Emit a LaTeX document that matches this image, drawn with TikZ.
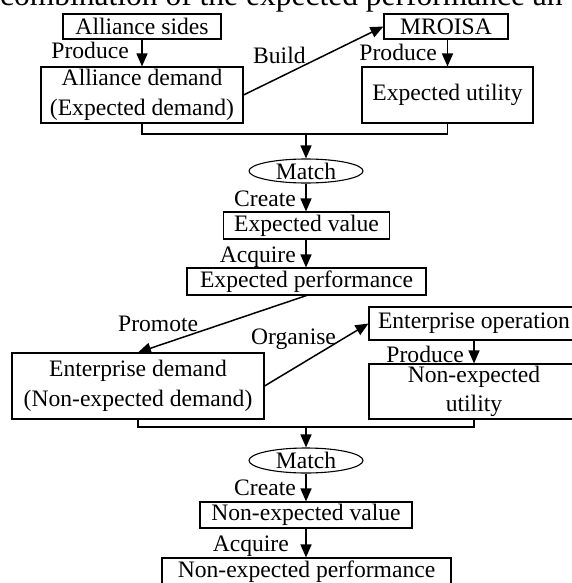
\documentclass[tikz,border=0pt]{standalone}
\usepackage{fontspec}
\setmainfont{Liberation Serif}
\usetikzlibrary{arrows.meta,shapes.geometric}
\begin{document}
\begin{tikzpicture}[x=1pt,y=-1pt,
  font=\fontsize{23.6}{29.5}\selectfont,
  box/.style={draw,line width=1.1pt,inner sep=0pt,align=center},
  oval/.style={draw,ellipse,line width=1.1pt,inner sep=0pt,minimum width=114pt,minimum height=24pt},
  lbl/.style={inner sep=0pt},
  conn/.style={line width=1.8pt},
  arr/.style={line width=1.5pt,-{Triangle[length=13pt,width=11pt]}}]
\useasboundingbox (0,0) rectangle (572,583);
\clip (0,0) rectangle (572,583);
% cropped caption
\node[lbl,anchor=base west,font=\fontsize{31.5}{36}\selectfont] (cap) at (0,6) {combination of the expected performance an};
% nodes
\node[box,minimum width=158pt,minimum height=25pt] (as) at (142,26.5) {Alliance sides};
\node[box,minimum width=202pt,minimum height=56pt] (ad) at (142,95) {Alliance demand\\(Expected demand)};
\node[box,minimum width=124pt,minimum height=25pt] (mr) at (446,26.5) {MROISA};
\node[box,minimum width=171pt,minimum height=56pt] (eu) at (447.5,95) {Expected utility};
\node[oval] (m1) at (306,171) {Match};
\node[box,minimum width=166pt,minimum height=27pt] (ev) at (306.5,225.5) {Expected value};
\node[box,minimum width=239pt,minimum height=27pt] (ep) at (306.5,281.5) {Expected performance};
\node[box,minimum width=252pt,minimum height=66pt] (ed) at (138,386) {Enterprise demand\\(Non-expected demand)};
\node[box,minimum width=210pt,minimum height=33pt] (eo) at (474,323.5) {Enterprise operation};
\node[box,minimum width=210pt,minimum height=55pt] (nu) at (474,391.5) {Non-expected\\utility};
\node[oval,minimum height=25pt] (m2) at (306,460.5) {Match};
\node[box,minimum width=212pt,minimum height=26pt] (nv) at (306,515) {Non-expected value};
\node[box,minimum width=289pt,minimum height=27pt] (np) at (306.5,571.5) {Non-expected performance};
% junctions
\coordinate (j1) at (306,134);
\coordinate (j2) at (306,427);
% connectors
\draw[arr] (as.south) -- (ad.north);
\draw[arr] (mr.south -| eu.north) -- (eu.north);
\draw[arr] (ad.east) -- (mr.west);
\draw[conn] (ad.south) |- (j1) -| (eu.south);
\draw[arr] (j1) -- (m1.north);
\draw[arr] (m1.south) -- (ev.north -| m1.south);
\draw[arr] (ev.south -| m1.south) -- (ep.north -| m1.south);
\draw[arr] (ep.south) -- (ed.north);
\draw[arr] (ed.east) -- (eo.west);
\draw[arr] (eo.south) -- (nu.north);
\draw[conn] (ed.south) |- (j2) -| (nu.south);
\draw[arr] (j2) -- (m2.north);
\draw[arr] (m2.south) -- (nv.north -| m2.south);
\draw[arr] (nv.south -| m2.south) -- (np.north -| m2.south);
% labels
\node[lbl,anchor=base east] (lp1) at (129,59) {Produce};
\node[lbl,anchor=base east] (lp2) at (437,61) {Produce};
\node[lbl,anchor=base west] (lb) at (253,64) {Build};
\node[lbl,anchor=base east] (lc1) at (296,206) {Create};
\node[lbl,anchor=base east] (la1) at (296,262) {Acquire};
\node[lbl,anchor=base west] (lpr) at (118,331) {Promote};
\node[lbl,anchor=base west] (lor) at (251,344) {Organise};
\node[lbl,anchor=base east] (lp3) at (464,362) {Produce};
\node[lbl,anchor=base east] (lc2) at (296,495) {Create};
\node[lbl,anchor=base east] (la2) at (289,551) {Acquire};
\end{tikzpicture}
\end{document}
